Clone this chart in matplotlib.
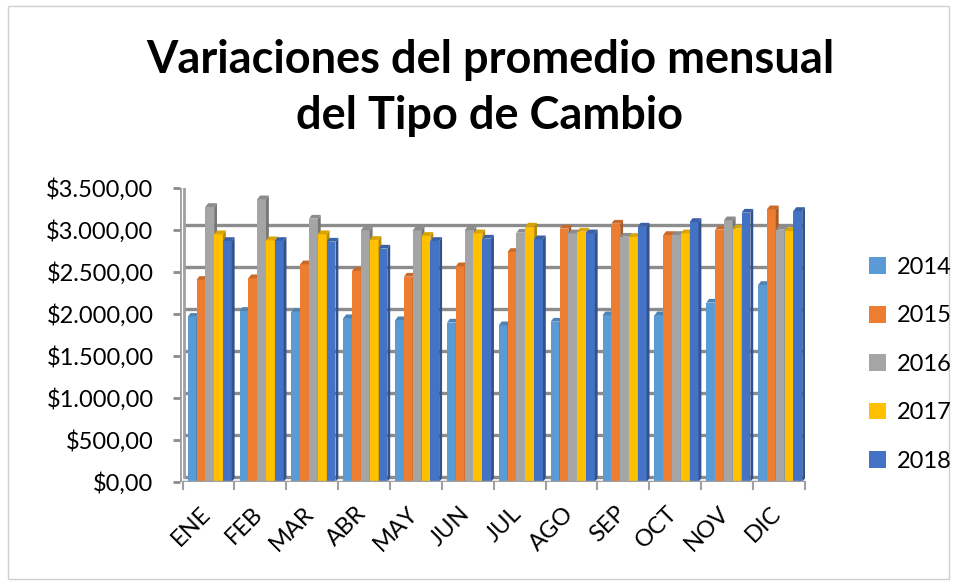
import numpy as np
import matplotlib
matplotlib.use("Agg")
import matplotlib.pyplot as plt
import matplotlib.transforms as mtransforms
from matplotlib.patches import Polygon, Rectangle

plt.rcParams['font.family'] = ['Lato', 'DejaVu Sans']

# Data (monthly average exchange rate)
months = ['ENE', 'FEB', 'MAR', 'ABR', 'MAY', 'JUN',
          'JUL', 'AGO', 'SEP', 'OCT', 'NOV', 'DIC']
years = ['2014', '2015', '2016', '2017', '2018']
v2014 = [1965, 2036, 2024, 1949, 1925, 1897, 1865, 1908, 1984, 1984, 2135, 2345]
v2015 = [2405, 2425, 2591, 2512, 2444, 2568, 2738, 3016, 3075, 2940, 3004, 3246]
v2016 = [3274, 3365, 3135, 2996, 2996, 2996, 2968, 2960, 2920, 2940, 3115, 3004]
v2017 = [2949, 2877, 2949, 2881, 2929, 2960, 3040, 2980, 2917, 2960, 3016, 2988]
v2018 = [2869, 2869, 2861, 2778, 2869, 2897, 2889, 2960, 3040, 3095, 3206, 3226]
series = [v2014, v2015, v2016, v2017, v2018]
colors = ['#5B9BD5', '#ED7D31', '#A5A5A5', '#FFC000', '#4472C4']
yticks = [0, 500, 1000, 1500, 2000, 2500, 3000, 3500]
ylabels = ['$0,00', '$500,00', '$1.000,00', '$1.500,00', '$2.000,00',
           '$2.500,00', '$3.000,00', '$3.500,00']


def shade(c, f):
    rgb = np.array(matplotlib.colors.to_rgb(c))
    return tuple(np.clip(rgb * f, 0, 1))


fig = plt.figure(figsize=(9.57, 5.82), dpi=100)
fig.patch.set_facecolor('white')
fig.add_artist(Rectangle((0.008, 0.005), 0.984, 0.985, transform=fig.transFigure,
                         fill=False, edgecolor='#D0D0D0', lw=1))

ax = fig.add_axes([0.188, 0.172, 0.653, 0.505])
x0, x1 = -0.08, len(months) - 0.03
ax.set_xlim(x0, x1)
ax.set_ylim(0, 3500)

# back wall gridlines, shifted for depth
back = ax.transData + mtransforms.ScaledTranslation(4 / 100, 5 / 100, fig.dpi_scale_trans)
for t in yticks:
    ax.plot([x0, x1], [t, t], color='#8C8C8C', lw=2.4,
            transform=back, zorder=1, solid_capstyle='butt')
ax.plot([x0, x0], [0, 3500], color='#A0A0A0', lw=2, transform=back, zorder=1)
# left wall edge and floor
ax.plot([x0, x0], [0, 3500], color='#A0A0A0', lw=2, zorder=1)
ax.plot([x0, x1], [0, 0], color='#A0A0A0', lw=2.5, zorder=6)

bw = 0.17
dx = 0.055
dy = 45
x = np.arange(len(months))
for i, (vals, c) in enumerate(zip(series, colors)):
    xs = x + 0.07 + i * bw
    ax.bar(xs, vals, width=bw, align='edge', color=c, zorder=3 + i * 0.01,
           edgecolor='none', label=years[i])
    for xl, h in zip(xs, vals):
        side = Polygon([[xl + bw, 0], [xl + bw + dx, dy], [xl + bw + dx, h + dy],
                        [xl + bw, h]], closed=True, facecolor=shade(c, 0.72),
                       edgecolor='none', zorder=3 + i * 0.01)
        top = Polygon([[xl, h], [xl + bw, h], [xl + bw + dx, h + dy], [xl + dx, h + dy]],
                      closed=True, facecolor=shade(c, 0.85), edgecolor='none',
                      zorder=3 + i * 0.01)
        ax.add_patch(side)
        ax.add_patch(top)

for s in ax.spines.values():
    s.set_visible(False)
ax.set_yticks(yticks)
ax.set_yticklabels(ylabels, fontsize=17)
ax.tick_params(axis='y', length=5, width=2, color='#8C8C8C', pad=14)
ax.set_xticks(x + 0.3)
ax.set_xticklabels(months, fontsize=17, rotation=45, ha='right',
                   rotation_mode='anchor')
ax.tick_params(axis='x', length=0, pad=15)
for k in range(len(months) + 1):
    ax.plot([k - 0.03, k - 0.03], [0, -80], color='#A0A0A0', lw=1.5, clip_on=False)

fig.text(0.512, 0.897, 'Variaciones del promedio mensual', ha='center', va='center',
         fontsize=32.5, fontweight='bold')
fig.text(0.512, 0.800, 'del Tipo de Cambio', ha='center', va='center',
         fontsize=32.5, fontweight='bold')

handles, labs = ax.get_legend_handles_labels()
leg = fig.legend(handles, labs, loc='center left', bbox_to_anchor=(0.886, 0.374),
                 frameon=False, fontsize=17, handlelength=0.72, handleheight=0.72,
                 handletextpad=0.45, labelspacing=1.16)

fig.savefig('out.png', dpi=100)
